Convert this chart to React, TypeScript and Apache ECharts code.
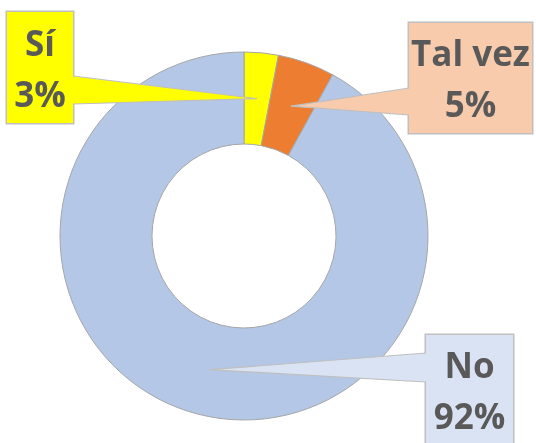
import React, { useEffect, useRef } from "react";
import * as echarts from "echarts";

const categories = ["Sí", "Tal vez", "No"];
const values = [3, 5, 92];
const sliceColors = ["#FFFF00", "#ED7D31", "#B4C7E7"];
const calloutColors = ["#FFFF00", "#F8CBAD", "#DAE3F3"];

// layout (not data)
const CX = 244;
const CY = 236;
const R_IN = 92;
const R_OUT = 184;
const boxes = [
  { x: 7, y: 12, w: 66, h: 111, side: "right", b1: 76, b2: 104 },
  { x: 409, y: 23, w: 123, h: 110, side: "left", b1: 88, b2: 115 },
  { x: 426, y: 335, w: 87, h: 110, side: "left", b1: 353, b2: 382 },
];

export default function App() {
  const ref = useRef<HTMLDivElement>(null);
  useEffect(() => {
    if (!ref.current) return;
    const chart = echarts.init(ref.current, null, { renderer: "svg" });
    const total = values.reduce((a, b) => a + b, 0);
    let acc = 0;
    const rMid = (R_IN + R_OUT) / 2;
    const graphics: any[] = [];
    values.forEach((v, i) => {
      const mid = ((acc + v / 2) / total) * Math.PI * 2;
      acc += v;
      const tx = CX + rMid * Math.sin(mid);
      const ty = CY - rMid * Math.cos(mid);
      const b = boxes[i];
      const bx = b.side === "right" ? b.x + b.w : b.x;
      const inset = b.side === "right" ? -1.5 : 1.5;
      graphics.push({
        type: "polygon",
        z: 100,
        shape: { points: [[bx + inset, b.b1], [tx, ty], [bx + inset, b.b2]] },
        style: { fill: calloutColors[i] },
      });
      graphics.push({
        type: "polyline",
        z: 101,
        shape: { points: [[bx, b.b1], [tx, ty], [bx, b.b2]] },
        style: { stroke: "#BFBFBF", lineWidth: 1.2, fill: null },
      });
    });
    chart.setOption({
      animation: false,
      graphic: graphics,
      series: [
        {
          type: "pie",
          center: [CX, CY],
          radius: [R_IN, R_OUT],
          startAngle: 90,
          clockwise: true,
          avoidLabelOverlap: false,
          itemStyle: { borderColor: "#A6A6A6", borderWidth: 1 },
          labelLine: { show: false },
          emphasis: { disabled: true },
          label: {
            show: true,
            formatter: "{b}\n{d}%",
            fontFamily: "Open Sans",
            fontWeight: "bold",
            fontSize: 35,
            color: "#595959",
            lineHeight: 51,
            align: "center",
            borderColor: "#BFBFBF",
            borderWidth: 1.5,
          },
          labelLayout: (params: any) => {
            const b = boxes[params.dataIndex];
            return {
              x: b.x + b.w / 2,
              y: b.y + b.h / 2,
              align: "center",
              verticalAlign: "middle",
            };
          },
          data: categories.map((name, i) => ({
            name,
            value: values[i],
            itemStyle: { color: sliceColors[i] },
            label: {
              backgroundColor: calloutColors[i],
              width: boxes[i].w,
              height: boxes[i].h - 8,
              padding: [4, 0],
            },
          })),
        },
      ],
    });
    return () => chart.dispose();
  }, []);
  return (
    <div
      ref={ref}
      style={{ position: "fixed", left: 0, top: 0, width: 536, height: 443 }}
    />
  );
}
